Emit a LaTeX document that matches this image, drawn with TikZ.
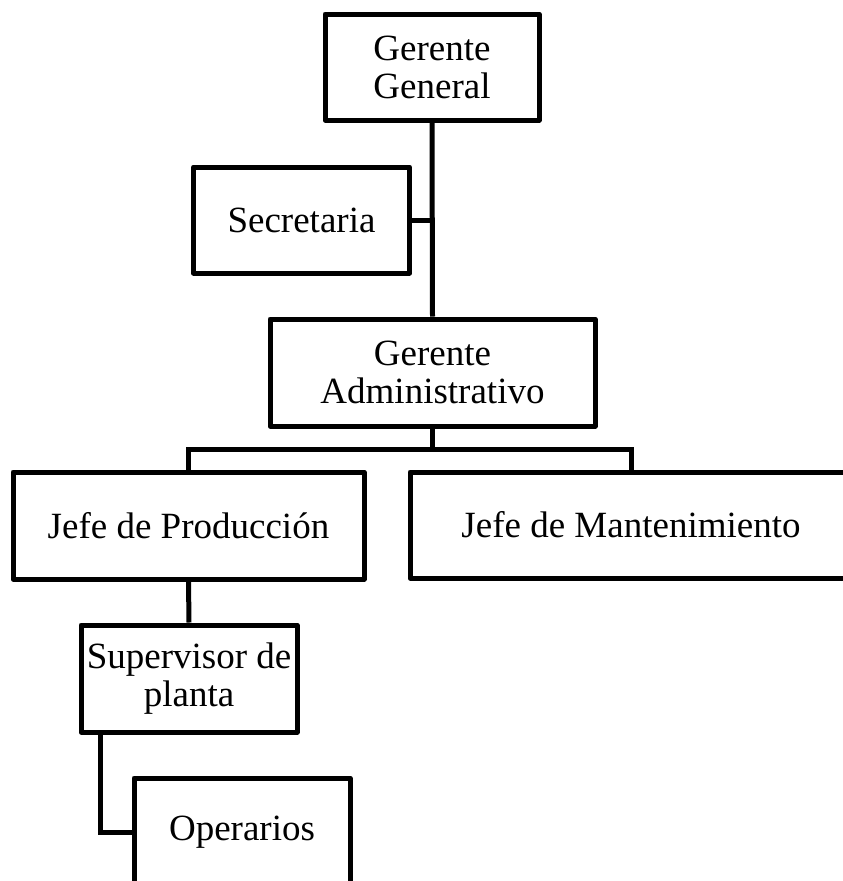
\documentclass[tikz,border=0pt]{standalone}
\usepackage{fontspec}
\setmainfont{Liberation Serif}
\tikzset{puesto/.style={rectangle,draw=black,line width=5pt,line join=round,
		align=center,inner sep=0pt,font=\fontsize{37}{38}\selectfont},
	enlace/.style={draw=black,line width=5pt}}

\begin{document}
\begin{tikzpicture}[x=1pt,y=-1pt]
				      \useasboundingbox (0,0) rectangle (843,881);
				      \clip (0,0) rectangle (843,881);

				      \node[puesto,minimum width=214pt,minimum height=106pt] (GG) at (432,67) {Gerente\\General};
				      \node[puesto,minimum width=216pt,minimum height=106pt] (Sec) at (301.5,220) {Secretaria};
				      \node[puesto,minimum width=325pt,minimum height=107pt] (GA) at (432.5,372.5) {Gerente\\Administrativo};
				      \node[puesto,minimum width=351pt,minimum height=107pt] (JP) at (188.5,525.5) {Jefe de Producción};
				      \node[puesto,minimum width=442pt,minimum height=106pt] (JM) at (631,525) {Jefe de Mantenimiento};
				      \node[puesto,minimum width=216pt,minimum height=107pt] (SP) at (189,678.5) {Supervisor de\\planta};
				      \node[puesto,minimum width=216pt,minimum height=108pt] (Op) at (242,832) {Operarios};

				      \coordinate (rama) at (432.5,449);

				      \path [enlace](GG.south) edge (GA.north);
				      \path [enlace](Sec.east) edge (Sec.east -| GG.south);
				      \path [enlace](GA.south) edge (rama);
				      \draw [enlace](JP.north) |- (rama) -| (JM.north);
				      \path [enlace](JP.south) edge (SP.north);
				      \draw [enlace]([xshift=22pt]SP.south west) |- (Op.west);
			      \end{tikzpicture}
\end{document}
